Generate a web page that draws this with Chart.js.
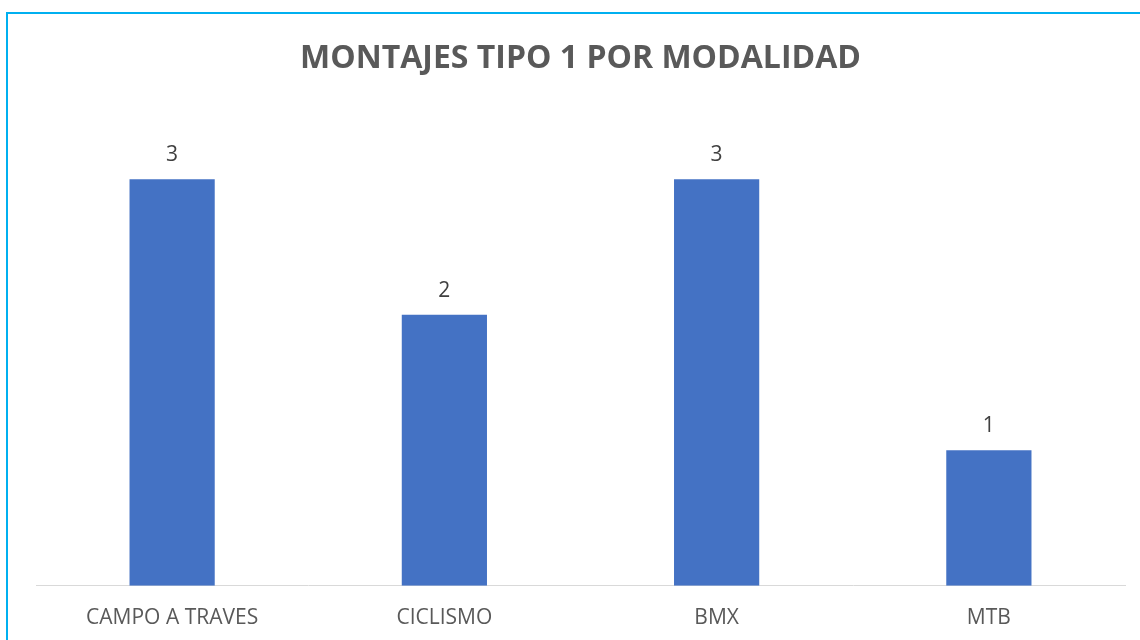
<!DOCTYPE html>
<html lang="es">
<head>
  <meta charset="UTF-8">
  <title>Montajes tipo 1 por modalidad</title>
  <script src="https://cdn.jsdelivr.net/npm/chart.js"></script>
  <style>
    * {
      margin: 0;
      padding: 0;
      box-sizing: border-box;
    }
    body {
      width: 1140px;
      height: 640px;
      overflow: hidden;
      background-color: #ffffff;
      font-family: "Open Sans", sans-serif;
    }
    .frame {
      position: absolute;
      left: 6px;
      top: 12px;
      width: 1150px;
      height: 640px;
      border-top: 2px solid #00B0F0;
      border-left: 2px solid #00B0F0;
    }
    .chart-box {
      position: absolute;
      left: 8px;
      top: 14px;
      width: 1144px;
      height: 640px;
    }
  </style>
</head>
<body>
  <div class="frame"></div>
  <div class="chart-box">
    <canvas id="montajesChart"></canvas>
  </div>

  <script>
    const categorias = ['CAMPO A TRAVES', 'CICLISMO', 'BMX', 'MTB'];
    const montajes = [3, 2, 3, 1];

    // etiquetas de valor encima de cada barra
    const valueLabels = {
      id: 'valueLabels',
      afterDatasetsDraw(chart) {
        const ctx = chart.ctx;
        const meta = chart.getDatasetMeta(0);
        ctx.save();
        ctx.font = '21px "Open Sans", sans-serif';
        ctx.fillStyle = '#404040';
        ctx.textAlign = 'center';
        ctx.textBaseline = 'middle';
        meta.data.forEach((bar, i) => {
          ctx.fillText(String(montajes[i]), bar.x, bar.y - 24);
        });
        ctx.restore();
      }
    };

    const ctx = document.getElementById('montajesChart').getContext('2d');
    new Chart(ctx, {
      type: 'bar',
      data: {
        labels: categorias,
        datasets: [{
          data: montajes,
          backgroundColor: '#4472C4',
          barPercentage: 0.313,
          categoryPercentage: 1
        }]
      },
      options: {
        responsive: true,
        maintainAspectRatio: false,
        animation: false,
        layout: {
          padding: { left: 28, right: 27, top: 0, bottom: 3 }
        },
        plugins: {
          legend: { display: false },
          tooltip: { enabled: false },
          title: {
            display: true,
            text: 'MONTAJES TIPO 1 POR MODALIDAD',
            color: '#595959',
            font: { family: '"Open Sans", sans-serif', size: 32, weight: 'bold' },
            padding: { top: 26, bottom: 33 }
          }
        },
        scales: {
          x: {
            grid: { display: false, drawTicks: false },
            border: { display: true, color: '#D9D9D9', width: 1 },
            ticks: {
              color: '#595959',
              padding: 20,
              font: { family: '"Open Sans", sans-serif', size: 21 }
            }
          },
          y: {
            display: false,
            min: 0,
            max: 3.5
          }
        }
      },
      plugins: [valueLabels]
    });
  </script>
</body>
</html>
